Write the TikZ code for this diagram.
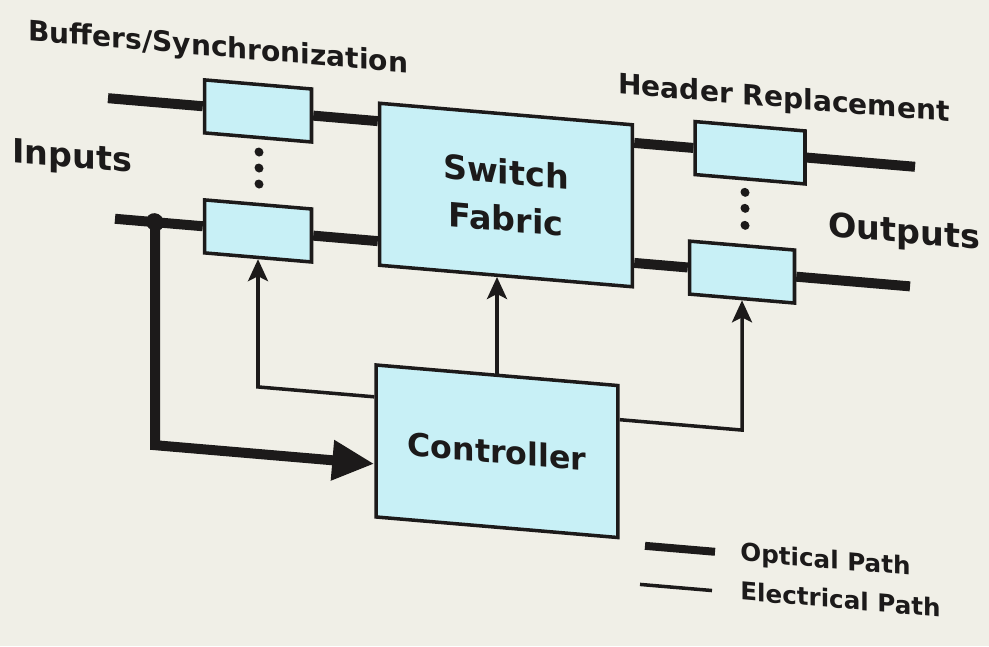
\documentclass[tikz,border=0pt]{standalone}
\usepackage{fontspec}
\setmainfont{DejaVu Sans}
\usetikzlibrary{arrows.meta,positioning}
\definecolor{ink}{RGB}{28,26,26}
\definecolor{boxfill}{RGB}{200,240,246}
\definecolor{paper}{RGB}{240,239,231}
\newcommand{\diaLab}{\fontsize{16}{19}\selectfont\bfseries}
\newcommand{\diaBig}{\fontsize{19}{27}\selectfont\bfseries}
\newcommand{\diaKey}{\fontsize{14}{17}\selectfont\bfseries}

\begin{document}
\begin{tikzpicture}[
  x=0.02cm, y=-0.02cm,
  unit/.style={draw=ink, line width=2pt, fill=boxfill, minimum width=2.14cm, minimum height=1.06cm},
  bigbox/.style={draw=ink, line width=2pt, fill=boxfill, align=center, text=ink, font=\diaBig},
  optic/.style={draw=ink, line width=0.2cm},
  elec/.style={draw=ink, line width=2pt},
  earr/.style={elec, -{Stealth[length=0.44cm, width=0.4cm, inset=0.1cm]}},
  oarr/.style={optic, -{Triangle[length=0.84cm, width=0.76cm]}},
  lbl/.style={font=\diaLab, text=ink, inner sep=0pt},
  key/.style={font=\diaKey, text=ink, inner sep=0pt}
]
% page
\fill[paper] (0,0) rectangle (989,646);
\useasboundingbox (0,0) rectangle (989,646);
\begin{scope}[yslant=-0.085, transform shape]
% Input side
\node[unit] (buf1) at (258,89) {};
\node[unit] (buf2) at (258,209) {};
\foreach \y in {130,146,162} \fill[ink] (259,\y) circle[radius=0.09cm];
\coordinate (in1) at (108,89);
\coordinate (in2) at (115,209);
\coordinate (tap) at (155,209);
% Core
\node[bigbox, minimum width=5.06cm, minimum height=3.24cm] (sw) at (506,152) {Switch\\Fabric};
\node[bigbox, minimum width=4.84cm, minimum height=3.04cm, font=\fontsize{18}{22}\selectfont\bfseries] (ctrl) at (497,409) {Controller};
% Output side
\node[unit, minimum width=2.2cm] (hr1) at (750,89) {};
\node[unit, minimum width=2.1cm] (hr2) at (742,209) {};
\foreach \y in {129,145,162} \fill[ink] (745,\y) circle[radius=0.09cm];
\coordinate (out1) at (915,89);
\coordinate (out2) at (910,209);
% Optical path
\draw[optic] (in1) -- (buf1.west);
\draw[optic] (buf1.east) -- (buf1.east -| sw.west);
\draw[optic] (in2) -- (buf2.west);
\draw[optic] (buf2.east) -- (buf2.east -| sw.west);
\draw[optic] (hr1.west -| sw.east) -- (hr1.west);
\draw[optic] (hr1.east) -- (out1);
\draw[optic] (hr2.west -| sw.east) -- (hr2.west);
\draw[optic] (hr2.east) -- (out2);
\fill[ink] (tap) circle[radius=0.18cm];
\path (ctrl.west) ++(0,23) coordinate (cin);
\draw[oarr] (tap) |- (cin);
% Electrical path
\path (ctrl.west) ++(0,-44) coordinate (cl);
\path (ctrl.east) ++(0,-42) coordinate (cr);
\draw[earr] (cl) -| (buf2.south);
\draw[earr] (ctrl.north) -- (ctrl.north |- sw.south);
\draw[earr] (cr) -| (hr2.south);
% Labels
\node[lbl, anchor=base west] (bslbl) at (28,38) {Buffers/Synchronization};
\node[lbl, anchor=base west] (hrlbl) at (618,41) {Header Replacement};
\node[lbl, anchor=base west, font=\fontsize{19}{22}\selectfont\bfseries] (inlbl) at (12,161) {Inputs};
\node[lbl, anchor=base west, font=\fontsize{19}{22}\selectfont\bfseries] (outlbl) at (828,166) {Outputs};
% Legend
\node[key, anchor=base west] (optkey) at (740,498) {Optical Path};
\node[key, anchor=base west] (elekey) at (740,537) {Electrical Path};
\coordinate (optA) at (645,491);
\coordinate (optB) at (715,491);
\coordinate (eleA) at (640,530);
\coordinate (eleB) at (712,530);
\draw[optic, line width=0.16cm] (optA) -- (optB);
\draw[elec] (eleA) -- (eleB);
\end{scope}
\end{tikzpicture}
\end{document}
